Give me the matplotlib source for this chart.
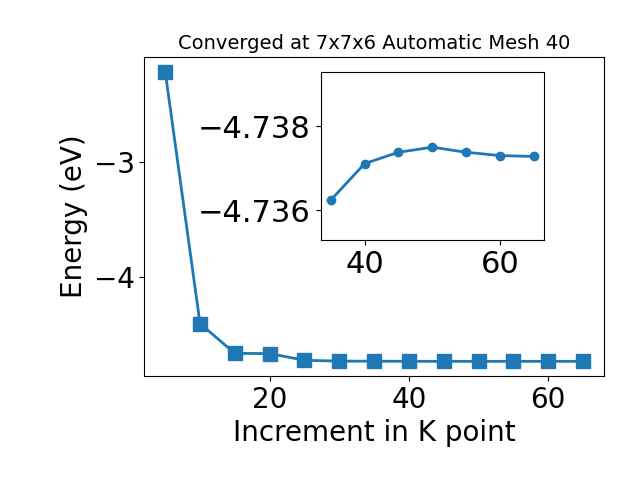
import matplotlib
matplotlib.use("Agg")
import matplotlib.pyplot as plt

kpoints = [5, 10, 15, 20, 25, 30, 35, 40, 45, 50, 55, 60, 65]
energy = [-2.217, -4.409, -4.668, -4.670, -4.728, -4.7355, -4.73624, -4.73711,
          -4.73738, -4.73750, -4.73738, -4.73730, -4.73728]

inset_k = [35, 40, 45, 50, 55, 60, 65]
inset_e = [-4.73624, -4.73711, -4.73738, -4.73750, -4.73738, -4.73730, -4.73728]

fig = plt.figure(figsize=(6.4, 4.8), dpi=100)
ax = fig.add_axes([0.2255, 0.217, 0.718, 0.664])
ax.plot(kpoints, energy, marker='s', markersize=10, linewidth=2, color='#1f77b4')
ax.set_xlabel("Increment in K point", fontsize=20)
ax.set_ylabel("Energy (eV)", fontsize=20)
ax.set_title("Converged at 7x7x6 Automatic Mesh 40", fontsize=14)
ax.tick_params(labelsize=20)
ax.set_yticks([-3, -4])
ax.set_xticks([20, 40, 60])

ins = fig.add_axes([0.501, 0.5, 0.349, 0.349])
ins.plot(inset_k, inset_e, marker='o', markersize=6, linewidth=2, color='#1f77b4')
ins.set_ylim(-4.73529, -4.73928)
ins.set_yticks([-4.738, -4.736])
ins.set_yticklabels(["\u22124.738", "\u22124.736"])
ins.set_xticks([40, 60])
ins.tick_params(labelsize=22)

fig.savefig("out.png", dpi=100)
